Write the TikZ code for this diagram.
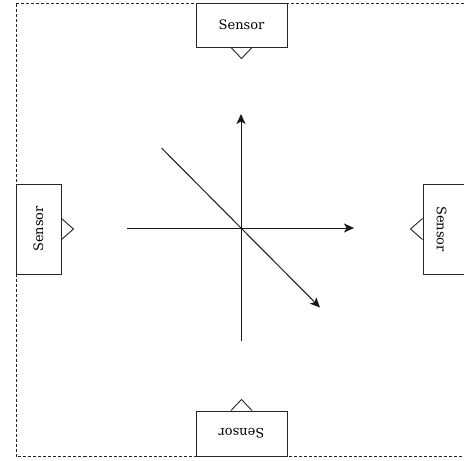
\documentclass[tikz,border=0pt]{standalone}
\usepackage{fontspec}
\setmainfont{DejaVu Serif}
\usetikzlibrary{arrows.meta,calc}
\tikzset{
  sensorbox/.style={draw=black!85, line width=1pt, fill=white, inner sep=0pt, font=\fontsize{13}{15}\selectfont},
  sensortext/.style={inner sep=0pt, font=\fontsize{13}{15}\selectfont},
  axisline/.style={draw=black!90, line width=1pt},
  tip/.style={draw=black!85, line width=0.9pt},
  arr/.style={-{Stealth[length=10pt,width=9pt,inset=2.5pt]}}
}
\begin{document}
\begin{tikzpicture}[x=1pt,y=-1pt]
\useasboundingbox (0,0) rectangle (464,461);
\begin{scope}
\clip (0,0) rectangle (464,461);
\draw[black!85, line width=0.9pt, dash pattern=on 3pt off 2pt] (16,3.5) rectangle (480,456);
% sensor boxes
\node[sensorbox, minimum width=91pt, minimum height=44pt] (top) at (241.5,25) {Sensor};
\node[sensorbox, minimum width=90pt, minimum height=45pt, rotate=90] (left) at (38.5,229) {Sensor};
\node[sensorbox, minimum width=90pt, minimum height=50pt, rotate=-90] (right) at (448,229) {};
\node[sensortext, rotate=-90] (righttext) at (441.5,229) {Sensor};
\node[sensorbox, minimum width=91pt, minimum height=45pt, rotate=180] (bottom) at (241.5,433.5) {Sensor};
\end{scope}
% small triangles
\draw[tip] ($(top.south)+(-10.5,0)$) -- ++(10.5,11) -- ++(10.5,-11);
\draw[tip] ($(left.south)+(0,-10.5)$) -- ++(12,10.5) -- ++(-12,10.5);
\draw[tip] ($(right.south)+(0,-10.5)$) -- ++(-12,10.5) -- ++(12,10.5);
\draw[tip] ($(bottom.south)+(-10.5,0)$) -- ++(10.5,-11) -- ++(10.5,11);
% axes
\coordinate (o) at (241,228);
\coordinate (vtop) at (241,114);
\coordinate (vbot) at (241,341);
\coordinate (hleft) at (127,228);
\coordinate (hright) at (354,228);
\coordinate (dstart) at (161.5,148);
\coordinate (dend) at (320,307.5);
\draw[axisline, arr] (vbot) -- (vtop);
\draw[axisline, arr] (hleft) -- (hright);
\draw[axisline, arr] (dstart) -- (dend);
\end{tikzpicture}
\end{document}
